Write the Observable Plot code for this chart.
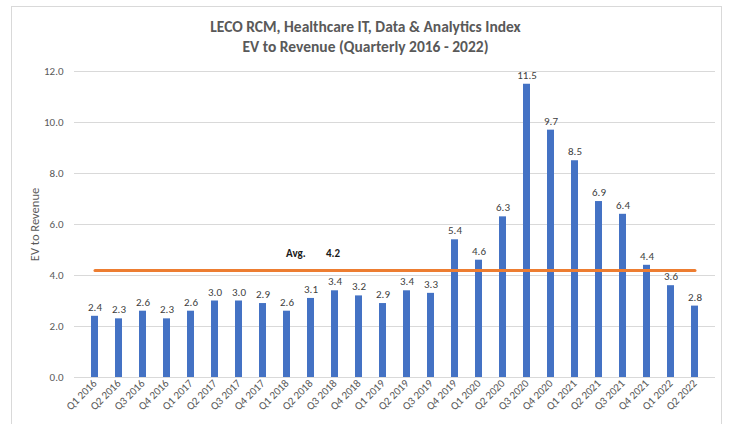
<!DOCTYPE html>
<html>
<head>
<meta charset="utf-8">
<script src="https://cdn.jsdelivr.net/npm/d3@7"></script>
<script src="https://cdn.jsdelivr.net/npm/@observablehq/plot@0.6"></script>
<style>
  body { margin: 0; background: #fff; font-family: Carlito, Calibri, Lato, sans-serif; }
  #wrap { position: relative; width: 731px; height: 424px; overflow: hidden; }
  #frame { position: absolute; left: 11px; top: 6px; width: 711px; height: 440px; border: 1px solid #d9d9d9; box-sizing: border-box; }
  #title { position: relative; height: 60px; text-align: center; color: #595959; font-size: 15.5px; font-weight: 600; line-height: 20px; padding-top: 17px; box-sizing: border-box; }
  #chart { position: relative; }
</style>
</head>
<body>
<div id="wrap">
  <div id="frame"></div>
  <div id="title">LECO RCM, Healthcare IT, Data &amp; Analytics Index<br>EV to Revenue (Quarterly 2016 - 2022)</div>
  <div id="chart"></div>
</div>
<script>
const quarters = ["Q1 2016","Q2 2016","Q3 2016","Q4 2016","Q1 2017","Q2 2017","Q3 2017","Q4 2017",
  "Q1 2018","Q2 2018","Q3 2018","Q4 2018","Q1 2019","Q2 2019","Q3 2019","Q4 2019",
  "Q1 2020","Q2 2020","Q3 2020","Q4 2020","Q1 2021","Q2 2021","Q3 2021","Q4 2021",
  "Q1 2022","Q2 2022"];
const evRevenue = [2.4,2.3,2.6,2.3,2.6,3.0,3.0,2.9,2.6,3.1,3.4,3.2,2.9,3.4,3.3,5.4,4.6,6.3,11.5,9.7,8.5,6.9,6.4,4.4,3.6,2.8];
const average = 4.2;
const yTicks = [0,2,4,6,8,10,12];

const data = quarters.map((q, i) => ({q, v: evRevenue[i]}));
const avgData = quarters.map(q => ({q, v: average}));
const fmt = d3.format(".1f");

const chart = Plot.plot({
  width: 731,
  height: 364,
  marginLeft: 74,
  marginRight: 16,
  marginTop: 11,
  marginBottom: 47,
  style: {fontFamily: "Carlito, Calibri, Lato, sans-serif", fontSize: "11px", color: "#595959", background: "transparent", overflow: "visible"},
  x: {domain: quarters, paddingInner: 0.7, paddingOuter: 0.35, label: null},
  y: {domain: [0, 12], label: null},
  marks: [
    Plot.gridY(yTicks, {stroke: "#d9d9d9", strokeOpacity: 1, strokeWidth: 1}),
    Plot.barY(data, {x: "q", y: "v", fill: "#4472C4"}),
    Plot.text(data, {x: "q", y: "v", text: d => fmt(d.v), dy: -9, fill: "#404040", fontSize: 11}),
    Plot.line(avgData, {x: "q", y: "v", stroke: "#ED7D31", strokeWidth: 3}),
    Plot.text([{q: "Q1 2018", v: 4.86, t: "Avg."}], {x: "q", y: "v", text: "t", textAnchor: "start", dx: -1, fontWeight: "bold", fontSize: 11, fill: "#1a1a1a"}),
    Plot.text([{q: "Q2 2018", v: 4.86, t: fmt(average)}], {x: "q", y: "v", text: "t", textAnchor: "start", dx: 15, fontWeight: "bold", fontSize: 11, fill: "#1a1a1a"}),
    Plot.axisX({tickSize: 0, tickRotate: -45, tickPadding: 4, fill: "#595959", fontSize: 11, label: null}),
    Plot.axisY({ticks: yTicks, tickFormat: fmt, tickSize: 0, tickPadding: 11, fill: "#595959", fontSize: 11, label: null}),
    Plot.text(["EV to Revenue"], {frameAnchor: "left", textAnchor: "middle", dx: -40, rotate: -90, fill: "#595959", fontSize: 12.5})
  ]
});
document.getElementById("chart").appendChild(chart);
</script>
</body>
</html>
